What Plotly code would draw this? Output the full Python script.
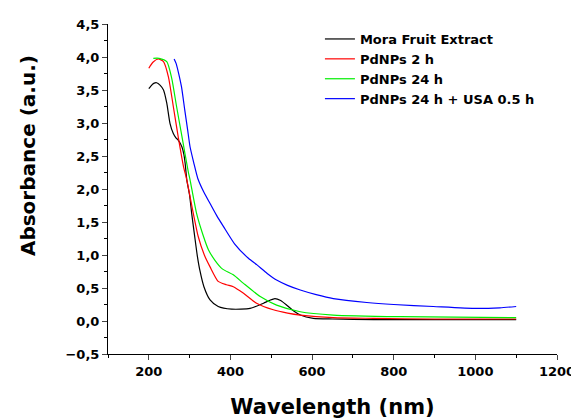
import plotly.graph_objects as go

names = ["Mora Fruit Extract", "PdNPs 2 h", "PdNPs 24 h", "PdNPs 24 h + USA 0.5 h"]
colors = ["#000000", "#ff0000", "#00ee00", "#0000ff"]

mora_x = [200,205,212,219,228,236,244,252,260,266,272,281,286,289,293,300,305,312,319,325,335,350,370,403,448,481,495,509,523,538,555,571,603,650,700,800,900,1000,1100]
mora_y = [3.52,3.56,3.60,3.61,3.57,3.50,3.30,2.99,2.84,2.78,2.74,2.64,2.52,2.39,2.14,1.90,1.63,1.30,0.98,0.77,0.52,0.32,0.22,0.18,0.19,0.27,0.31,0.34,0.31,0.24,0.15,0.09,0.04,0.03,0.025,0.02,0.02,0.02,0.02]

red_x = [200,210,223,236,248,260,272,285,293,309,321,336,350,370,390,407,432,464,505,540,571,652,750,900,1100]
red_y = [3.83,3.92,3.97,3.93,3.70,3.25,2.79,2.34,2.14,1.63,1.28,1.00,0.82,0.60,0.55,0.52,0.42,0.27,0.17,0.12,0.09,0.05,0.04,0.03,0.03]

green_x = [211,225,244,256,268,281,297,301,317,334,346,362,380,407,432,473,513,571,652,816,1100]
green_y = [3.98,3.98,3.93,3.68,3.25,2.80,2.25,2.14,1.63,1.28,1.08,0.92,0.79,0.70,0.57,0.37,0.24,0.14,0.09,0.065,0.05]

blue_x = [262,267,272,280,288,295,301,310,320,335,350,366,383,410,444,465,490,513,540,571,610,652,734,800,897,1003,1060,1100]
blue_y = [3.97,3.90,3.78,3.55,3.20,2.90,2.64,2.40,2.16,1.95,1.78,1.60,1.43,1.17,0.95,0.85,0.72,0.62,0.54,0.47,0.40,0.34,0.28,0.25,0.22,0.19,0.20,0.22]

series = [(mora_x, mora_y), (red_x, red_y), (green_x, green_y), (blue_x, blue_y)]

x_ticks = [200, 400, 600, 800, 1000, 1200]
y_ticks = [-0.5, 0.0, 0.5, 1.0, 1.5, 2.0, 2.5, 3.0, 3.5, 4.0, 4.5]

fig = go.Figure()
for (xs, ys), n, c in zip(series, names, colors):
    fig.add_trace(go.Scatter(x=xs, y=ys, name=n, mode="lines",
                             line=dict(color=c, width=1.2, shape="spline", smoothing=0.6)))

font_family = "DejaVu Sans, sans-serif"
fig.update_layout(
    width=571, height=411,
    margin=dict(l=100, r=22, t=16, b=65),
    paper_bgcolor="white", plot_bgcolor="white",
    separators=",.",
    font=dict(family=font_family, color="black"),
    showlegend=True,
    legend=dict(x=0.472, y=1.0, xanchor="left", yanchor="top",
                font=dict(size=13, family=font_family, weight="bold"),
                bgcolor="rgba(0,0,0,0)", tracegroupgap=0, itemwidth=30),
    xaxis=dict(range=[100, 1200], tickvals=x_ticks, ticks="outside", ticklen=5, tickwidth=1,
               showline=True, linecolor="black", linewidth=1, showgrid=False, zeroline=False,
               minor=dict(dtick=100, tick0=100, ticks="outside", ticklen=3, tickcolor="black"),
               tickfont=dict(size=13, weight="bold"), automargin=False,
               title=dict(text="Wavelength (nm)", font=dict(size=21, weight="bold"), standoff=22)),
    yaxis=dict(range=[-0.5, 4.5], tickvals=y_ticks, tickformat=".1f", ticks="outside", ticklen=5, tickwidth=1,
               showline=True, linecolor="black", linewidth=1, showgrid=False, zeroline=False,
               minor=dict(dtick=0.25, tick0=0, ticks="outside", ticklen=3, tickcolor="black"),
               tickfont=dict(size=13, weight="bold"), automargin=False),
    annotations=[dict(text="Absorbance (a.u.)", xref="paper", yref="paper",
                      x=-0.178, y=0.6, xanchor="center", yanchor="middle",
                      textangle=-90, showarrow=False,
                      font=dict(size=20, weight="bold", family=font_family))],
)

fig.write_html("out.html")
